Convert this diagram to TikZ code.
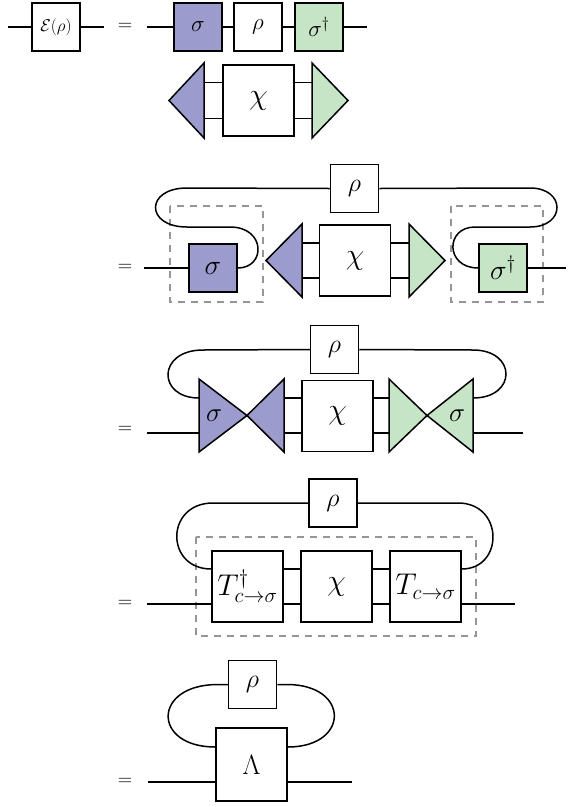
\RequirePackage{fix-cm}
\documentclass[tikz,border=0pt]{standalone}
\begin{document}
\begin{tikzpicture}[x=1pt,y=-1pt,
    wire/.style={line width=1.5pt},
    tbox/.style={draw, wire, fill=white, minimum size=48pt, inner sep=0pt, font=\fontsize{26}{30}\selectfont},
    bigbox/.style={tbox, minimum size=71pt, font=\fontsize{30}{34}\selectfont},
    dbox/.style={draw=mydash, line width=1.2pt, dash pattern=on 7pt off 6pt},
    eqsign/.style={font=\fontsize{20}{24}\selectfont}]
    \definecolor{mypur}{RGB}{155,155,205}
    \definecolor{mygrn}{RGB}{198,228,198}
    \definecolor{mydash}{RGB}{150,150,150}

    \useasboundingbox (0,0) rectangle (568,807);

    % first line
    \node[tbox, font=\fontsize{17}{20}\selectfont] (eps) at (56,27) {$\mathcal{E}(\rho)$};
    \coordinate (epsin) at (8,27);
    \coordinate (epsout) at (104,27);
    \draw[wire] (epsin) -- (eps) -- (epsout);
    \node[eqsign] (eq1) at (125,27) {$=$};
    \node[tbox, fill=mypur, font=\fontsize{23}{26}\selectfont] (sig1) at (198,27) {$\sigma$};
    \node[tbox, font=\fontsize{23}{26}\selectfont] (rho1) at (258,27) {$\rho$};
    \node[tbox, fill=mygrn, font=\fontsize{23}{26}\selectfont] (sigd1) at (319,27) {$\sigma^\dagger$};
    \coordinate (in1) at (147,27);
    \coordinate (out1) at (367,27);
    \draw[wire] (in1) -- (sig1) -- (rho1) -- (sigd1) -- (out1);

    \node[bigbox] (chi1) at (258.5,100.5) {$\chi$};
    \filldraw[wire, fill=mypur] (204,63) -- (169,100.5) -- (204,138) -- cycle;
    \filldraw[wire, fill=mygrn] (312,63) -- (348,100.5) -- (312,138) -- cycle;
    \coordinate (up1) at (204,82.5);
    \coordinate (lo1) at (204,118.5);
    \coordinate (up1r) at (312,82.5);
    \coordinate (lo1r) at (312,118.5);
    \draw[wire] (up1) -- (up1 -| chi1.west) (lo1) -- (lo1 -| chi1.west);
    \draw[wire] (chi1.east |- up1r) -- (up1r) (chi1.east |- lo1r) -- (lo1r);

    % second line
    \draw[dbox] (170,206) rectangle (263,302);
    \draw[dbox] (451,206) rectangle (543,302);
    \node[eqsign] (eq2) at (125,268) {$=$};
    \node[tbox, fill=mypur, font=\fontsize{28}{32}\selectfont] (sig2) at (213,268) {$\sigma$};
    \node[bigbox] (chi2) at (355,260.5) {$\chi$};
    \node[tbox, fill=mygrn, font=\fontsize{28}{32}\selectfont] (sigd2) at (503,268) {$\sigma^\dagger$};
    \node[tbox] (rho2) at (354.5,188.5) {$\rho$};
    \filldraw[wire, fill=mypur] (302,224) -- (266,260.5) -- (302,297) -- cycle;
    \filldraw[wire, fill=mygrn] (409,224) -- (445,260.5) -- (409,297) -- cycle;
    \coordinate (up2) at (302,243);
    \coordinate (lo2) at (302,278);
    \coordinate (up2r) at (409,243);
    \coordinate (lo2r) at (409,278);
    \draw[wire] (up2) -- (up2 -| chi2.west) (lo2) -- (lo2 -| chi2.west);
    \draw[wire] (chi2.east |- up2r) -- (up2r) (chi2.east |- lo2r) -- (lo2r);
    \coordinate (in2) at (144,268);
    \coordinate (out2) at (566,268);
    \draw[wire] (in2) -- (sig2) (sigd2) -- (out2);
    \draw[wire] (sig2.east) .. controls (266,268) and (266,227) .. (230,227) -- (187,227)
        .. controls (145,227) and (145,188) .. (187,188) -- (rho2.west);
    \draw[wire] (rho2.east) -- (530,188) .. controls (566,188) and (566,227) .. (530,227) -- (475,227)
        .. controls (445,227) and (445,268) .. (sigd2.west);

    % third line
    \node[eqsign] (eq3) at (125,430) {$=$};
    \node[bigbox] (chi3) at (337.5,416) {$\chi$};
    \node[tbox] (rho3) at (334.5,349.5) {$\rho$};
    \filldraw[wire, fill=mypur] (199,379) -- (247,415.5) -- (199,452) -- cycle;
    \filldraw[wire, fill=mypur] (284,379) -- (247,415.5) -- (284,452) -- cycle;
    \filldraw[wire, fill=mygrn] (389,379) -- (427,415.5) -- (389,452) -- cycle;
    \filldraw[wire, fill=mygrn] (473,379) -- (427,415.5) -- (473,452) -- cycle;
    \node[font=\fontsize{27}{30}\selectfont] (sig3) at (214,416) {$\sigma$};
    \node[font=\fontsize{27}{30}\selectfont] (sigd3) at (457,416) {$\sigma$};
    \coordinate (up3) at (284,398);
    \coordinate (lo3) at (284,433);
    \coordinate (up3r) at (389,398);
    \coordinate (lo3r) at (389,433);
    \draw[wire] (up3) -- (up3 -| chi3.west) (lo3) -- (lo3 -| chi3.west);
    \draw[wire] (chi3.east |- up3r) -- (up3r) (chi3.east |- lo3r) -- (lo3r);
    \coordinate (in3) at (147,433);
    \coordinate (out3) at (523,433);
    \draw[wire] (in3) -- (199,433) (473,433) -- (out3);
    \draw[wire] (rho3.west) -- (203,350) .. controls (157,350) and (157,398) .. (199,398);
    \draw[wire] (rho3.east) -- (473,350) .. controls (517,350) and (517,398) .. (473,398);

    % fourth line
    \draw[dbox] (196,537) rectangle (476,636);
    \node[eqsign] (eq4) at (125,604) {$=$};
    \node[bigbox] (tdag) at (247.5,586.5) {$T^{\dagger}_{c\to\sigma}$};
    \node[bigbox] (chi4) at (336.5,586.5) {$\chi$};
    \node[bigbox] (tmap) at (425.5,586.5) {$T_{c\to\sigma}$};
    \node[tbox] (rho4) at (333,503) {$\rho$};
    \coordinate (in4) at (147,604);
    \coordinate (out4) at (515,604);
    \coordinate (up4) at (300,569);
    \draw[wire] (in4) -- (in4 -| tdag.west) (tdag.east |- in4) -- (chi4.west |- in4)
        (chi4.east |- in4) -- (tmap.west |- in4) (tmap.east |- in4) -- (out4);
    \draw[wire] (tdag.east |- up4) -- (chi4.west |- up4) (chi4.east |- up4) -- (tmap.west |- up4);
    \draw[wire] (rho4.west) -- (213,503) .. controls (165,503) and (165,569) .. (tdag.west |- up4);
    \draw[wire] (rho4.east) -- (458,503) .. controls (504,503) and (504,569) .. (tmap.east |- up4);

    % fifth line
    \node[eqsign] (eq5) at (125,782) {$=$};
    \node[tbox] (rho5) at (252.5,684.5) {$\rho$};
    \node[bigbox, minimum height=73pt, font=\fontsize{28}{32}\selectfont] (lam) at (251.5,764.5) {$\Lambda$};
    \coordinate (in5) at (148,782);
    \coordinate (out5) at (352,782);
    \draw[wire] (in5) -- (in5 -| lam.west) (lam.east |- out5) -- (out5);
    \draw[wire] (rho5.west) -- (218,684.5) .. controls (152,684.5) and (152,747) .. (lam.west |- 0,747);
    \draw[wire] (rho5.east) -- (287,684.5) .. controls (350,684.5) and (350,747) .. (lam.east |- 0,747);
\end{tikzpicture}
\end{document}
